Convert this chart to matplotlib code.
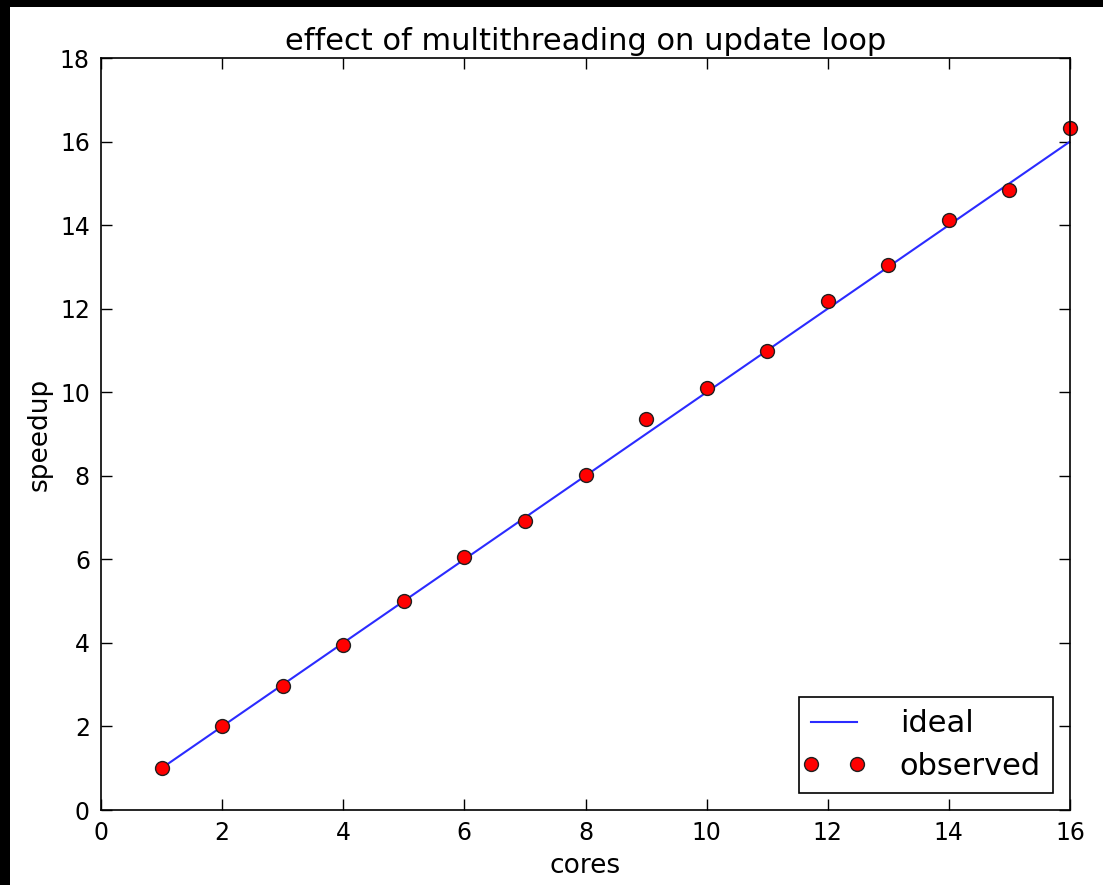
import matplotlib
matplotlib.use("Agg")
import matplotlib.pyplot as plt
from matplotlib.patches import Rectangle
from matplotlib.lines import Line2D
from matplotlib.legend_handler import HandlerLine2D

cores = [1, 2, 3, 4, 5, 6, 7, 8, 9, 10, 11, 12, 13, 14, 15, 16]
ideal = [1, 2, 3, 4, 5, 6, 7, 8, 9, 10, 11, 12, 13, 14, 15, 16]
observed = [1.0, 2.0, 2.97, 3.96, 5.0, 6.05, 6.92, 8.02, 9.36, 10.1,
            10.99, 12.18, 13.04, 14.12, 14.84, 16.32]
xticks = [0, 2, 4, 6, 8, 10, 12, 14, 16]
yticks = [0, 2, 4, 6, 8, 10, 12, 14, 16, 18]

W, H = 1103, 885
fig = plt.figure(figsize=(W / 100, H / 100), dpi=100, facecolor="black")
fig.patches.append(Rectangle((10 / W, 0), 1 - 10 / W, 1 - 7 / H,
                             transform=fig.transFigure, facecolor="white",
                             edgecolor="none", zorder=-10))

ax = fig.add_axes([101 / W, 75 / H, 969 / W, 752 / H])
ax.plot(cores, ideal, color="#2b2bff", lw=1.5, label="ideal", clip_on=True)
ax.plot(cores, observed, "o", color="red", markeredgecolor="#202020",
        markeredgewidth=1.0, markersize=10, label="observed", clip_on=False)

ax.set_xlim(0, 16)
ax.set_ylim(0, 18)
ax.set_xticks(xticks)
ax.set_yticks(yticks)
ax.tick_params(direction="in", top=True, right=True, length=8, width=1,
               labelsize=17, pad=8)
for s in ax.spines.values():
    s.set_linewidth(1.2)

ax.set_title("effect of multithreading on update loop", fontsize=22, pad=6)
ax.set_xlabel("cores", fontsize=19, labelpad=6)
ax.set_ylabel("speedup", fontsize=19, labelpad=5)

leg = ax.legend(loc="lower right", numpoints=2, fontsize=22, fancybox=False,
                framealpha=1, edgecolor="black", borderaxespad=0.55,
                handlelength=1.5, handletextpad=1.4, borderpad=0.4,
                labelspacing=0.45,
                handler_map={Line2D: HandlerLine2D(marker_pad=0)})
leg.get_frame().set_linewidth(1.2)

fig.savefig("out.png", dpi=100, facecolor=fig.get_facecolor())
